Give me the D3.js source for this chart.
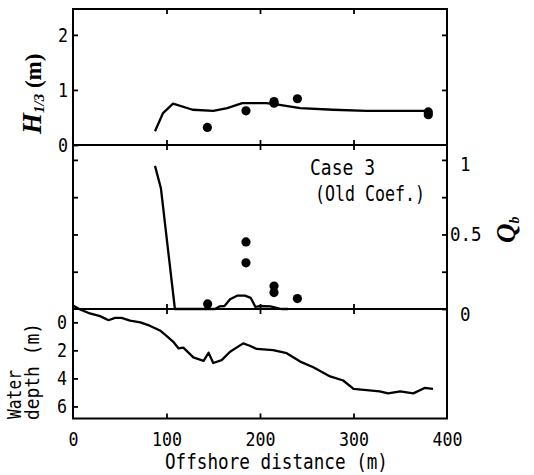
<!DOCTYPE html>
<html>
<head>
<meta charset="utf-8">
<script src="https://cdn.jsdelivr.net/npm/d3@7"></script>
<style>
  html, body { margin: 0; padding: 0; background: #fff; }
  svg { display: block; }
  .tick text { font-family: "DejaVu Sans Mono", monospace; font-size: 20px; fill: #000; }
  .tick line { stroke: #000; stroke-width: 1.8; }
</style>
</head>
<body>
<svg id="chart" width="534" height="475"></svg>
<script>
// ---- Data ----
const hLineX = [87.7, 96.3, 107, 128, 150, 165, 181, 207, 221, 243, 278, 314, 350, 380];
const hLineY = [0.25, 0.58, 0.75, 0.64, 0.62, 0.67, 0.76, 0.76, 0.73, 0.67, 0.64, 0.62, 0.62, 0.62];
const hObsX = [143.7, 185, 215, 215, 240, 380, 380];
const hObsY = [0.32, 0.62, 0.76, 0.79, 0.84, 0.60, 0.55];

const qLineX = [87.7, 94, 109, 130, 152, 157, 162, 168, 176, 184, 190, 195, 200, 211, 223, 230];
const qLineY = [0.96, 0.81, 0.0, 0.0, 0.0, 0.018, 0.02, 0.065, 0.09, 0.09, 0.075, 0.015, 0.02, 0.018, 0.0, 0.0];
const qObsX = [144, 185, 185, 215, 215, 240];
const qObsY = [0.034, 0.45, 0.31, 0.154, 0.11, 0.07];

const depthX = [0, 7.5, 18, 29, 38, 45, 52, 61, 72, 82, 93, 100, 107, 113, 118, 128.7, 139.7, 145, 150, 159, 168, 182, 189, 196.5, 214, 228.5, 243, 257, 275, 289, 300, 314, 328, 337, 350, 364, 376, 385];
const depthY = [-1.2, -0.92, -0.63, -0.44, -0.15, -0.32, -0.32, -0.12, 0.0, 0.24, 0.58, 0.96, 1.37, 1.86, 1.81, 2.5, 2.75, 2.17, 2.9, 2.7, 2.1, 1.5, 1.67, 1.9, 1.98, 2.2, 2.8, 3.2, 3.86, 4.15, 4.75, 4.83, 4.92, 5.07, 4.92, 5.07, 4.68, 4.75];

const xTicks = [0, 100, 200, 300, 400];
const hTicks = [0, 1, 2];
const qTicks = [0, 0.25, 0.5, 0.75, 1];
const qLabels = {0: "0", 0.5: "0.5", 1: "1"};
const dTicks = [0, 2, 4, 6];

// ---- Layout ----
const L = 73, R = 447;
const T1 = 9, B1 = 145, B2 = 309, B3 = 418.5;

const svg = d3.select("#chart");
const x = d3.scaleLinear().domain([0, 400]).range([L, R]);
const yH = d3.scaleLinear().domain([0, 2.47]).range([B1, T1]);
const yQ = d3.scaleLinear().domain([0, 1.1]).range([B2, B1]);
const yD = d3.scaleLinear().domain([-0.95, 6.86]).range([B2, B3]);

function noDomain(g) { g.select(".domain").remove(); }
// condensed plotter-like lettering: squeeze monospace glyphs to a given advance per character
function condense(sel, cw) {
  sel.attr("textLength", function () { return this.textContent.length * cw; })
     .attr("lengthAdjust", "spacingAndGlyphs");
}

// Frames
[[T1, B1], [B1, B2], [B2, B3]].forEach(([a, b]) => {
  svg.append("rect").attr("x", L).attr("y", a).attr("width", R - L).attr("height", b - a)
    .attr("fill", "none").attr("stroke", "#000").attr("stroke-width", 2);
});

// X ticks at frame edges
const inner = [100, 200, 300];
svg.append("g").attr("transform", `translate(0,${T1})`)
  .call(d3.axisTop(x).tickValues(inner).tickSize(-5).tickFormat("")).call(noDomain);
[B1, B2].forEach(yy => {
  svg.append("g").attr("transform", `translate(0,${yy})`)
    .call(d3.axisTop(x).tickValues(inner).tickSize(5).tickFormat("")).call(noDomain);
  svg.append("g").attr("transform", `translate(0,${yy})`)
    .call(d3.axisBottom(x).tickValues(inner).tickSize(5).tickFormat("")).call(noDomain);
});
const xAxisG = svg.append("g").attr("transform", `translate(0,${B3})`)
  .call(d3.axisBottom(x).tickValues(xTicks).tickSize(-5).tickPadding(13).tickFormat(d3.format("d")))
  .call(noDomain);
xAxisG.selectAll(".tick line").filter(d => d === 0 || d === 400).remove();
condense(xAxisG.selectAll(".tick text"), 10);

// Top panel y axes
const hAx = svg.append("g").attr("transform", `translate(${L},0)`)
  .call(d3.axisLeft(yH).tickValues(hTicks).tickSize(-5).tickPadding(5).tickFormat(d3.format("d")))
  .call(noDomain);
condense(hAx.selectAll(".tick text"), 10);
svg.append("g").attr("transform", `translate(${R},0)`)
  .call(d3.axisRight(yH).tickValues([1, 2]).tickSize(-5).tickFormat("")).call(noDomain);

// Middle panel y axes
svg.append("g").attr("transform", `translate(${L},0)`)
  .call(d3.axisLeft(yQ).tickValues(qTicks.slice(1)).tickSize(-5).tickFormat("")).call(noDomain);
const qAx = svg.append("g").attr("transform", `translate(${R},0)`)
  .call(d3.axisRight(yQ).tickValues(qTicks).tickSize(-5).tickPadding(3).tickFormat(d => qLabels[d] || ""))
  .call(noDomain);
qAx.selectAll(".tick text").attr("dy", d => d === 0.5 ? "0.32em" : "0.55em")
  .attr("dx", d => d === 0.5 ? 0 : 10);
condense(qAx.selectAll(".tick text").filter(d => qLabels[d]), 10.5);

// Bottom panel y axis
const dAx = svg.append("g").attr("transform", `translate(${L},0)`)
  .call(d3.axisLeft(yD).tickValues(dTicks).tickSize(-5).tickPadding(6).tickFormat(d3.format("d")))
  .call(noDomain);
condense(dAx.selectAll(".tick text"), 10);

// Lines
const lw = 2.3;
svg.append("path").datum(hLineX.map((v, i) => [v, hLineY[i]]))
  .attr("d", d3.line().x(d => x(d[0])).y(d => yH(d[1])))
  .attr("fill", "none").attr("stroke", "#000").attr("stroke-width", lw).attr("stroke-linejoin", "round");
svg.append("path").datum(qLineX.map((v, i) => [v, qLineY[i]]))
  .attr("d", d3.line().x(d => x(d[0])).y(d => yQ(d[1])))
  .attr("fill", "none").attr("stroke", "#000").attr("stroke-width", lw).attr("stroke-linejoin", "round");
svg.append("path").datum(depthX.map((v, i) => [v, depthY[i]]))
  .attr("d", d3.line().x(d => x(d[0])).y(d => yD(d[1])))
  .attr("fill", "none").attr("stroke", "#000").attr("stroke-width", lw).attr("stroke-linejoin", "round");

// Dots
svg.append("g").selectAll("circle").data(hObsX.map((v, i) => [v, hObsY[i]])).join("circle")
  .attr("cx", d => x(d[0])).attr("cy", d => yH(d[1])).attr("r", 4.6).attr("fill", "#000");
svg.append("g").selectAll("circle").data(qObsX.map((v, i) => [v, qObsY[i]])).join("circle")
  .attr("cx", d => x(d[0])).attr("cy", d => yQ(d[1])).attr("r", 4.6).attr("fill", "#000");

// Texts
const mono = "DejaVu Sans Mono, monospace";
svg.append("text").attr("x", 310).attr("y", 175).attr("font-family", mono).attr("font-size", 22)
  .attr("textLength", 65).attr("lengthAdjust", "spacingAndGlyphs").text("Case 3");
svg.append("text").attr("x", 315).attr("y", 201).attr("font-family", mono).attr("font-size", 21)
  .attr("textLength", 110).attr("lengthAdjust", "spacingAndGlyphs").text("(Old Coef.)");
svg.append("text").attr("x", 276.5).attr("y", 469).attr("text-anchor", "middle")
  .attr("font-family", mono).attr("font-size", 22)
  .attr("textLength", 223).attr("lengthAdjust", "spacingAndGlyphs").text("Offshore distance (m)");
svg.append("text").attr("transform", "translate(21,419) rotate(-90)")
  .attr("font-family", mono).attr("font-size", 19)
  .attr("textLength", 49).attr("lengthAdjust", "spacingAndGlyphs").text("Water");
svg.append("text").attr("transform", "translate(39,420) rotate(-90)")
  .attr("font-family", mono).attr("font-size", 19)
  .attr("textLength", 97).attr("lengthAdjust", "spacingAndGlyphs").text("depth (m)");

const serif = "Liberation Serif, DejaVu Serif, serif";
const hl = svg.append("text").attr("transform", "translate(41,134) rotate(-90)")
  .attr("font-family", serif).attr("font-weight", "bold");
hl.append("tspan").attr("font-style", "italic").attr("font-size", 27).text("H");
hl.append("tspan").attr("font-style", "italic").attr("font-size", 15).attr("dy", 3).text("1/3");
hl.append("tspan").attr("font-size", 23).attr("dy", -3).text(" (m)");

const ql = svg.append("text").attr("transform", "translate(515,243) rotate(-90)")
  .attr("font-family", serif).attr("font-weight", "bold");
ql.append("tspan").attr("font-style", "italic").attr("font-size", 27).text("Q");
ql.append("tspan").attr("font-style", "italic").attr("font-size", 14).attr("dy", 4).text("b");
</script>
</body>
</html>
